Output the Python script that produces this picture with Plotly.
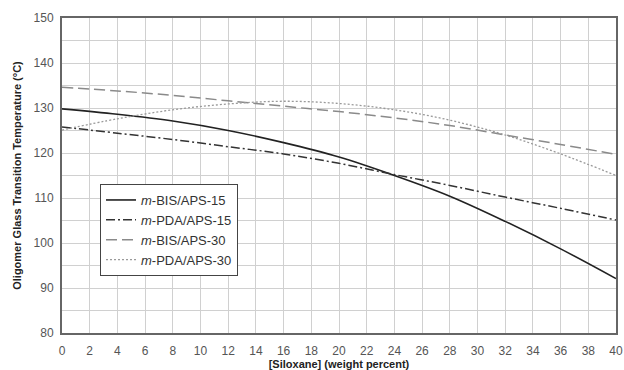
import plotly.graph_objects as go

x = [0, 4, 8, 12, 16, 20, 24, 28, 32, 36, 40]
bis15 = [129.8, 128.6, 127.1, 125.0, 122.3, 119.1, 115.0, 110.4, 104.8, 98.7, 92.1]
pda15 = [125.8, 124.4, 123.0, 121.4, 119.8, 117.7, 115.2, 112.8, 110.2, 107.7, 105.1]
bis30 = [134.6, 133.8, 132.8, 131.6, 130.4, 129.2, 127.8, 126.1, 124.0, 121.9, 119.7]
pda30 = [125.1, 127.6, 129.6, 130.9, 131.5, 131.0, 129.6, 127.3, 124.0, 119.8, 115.0]

names = ["<i>m</i>-BIS/APS-15", "<i>m</i>-PDA/APS-15", "<i>m</i>-BIS/APS-30", "<i>m</i>-PDA/APS-30"]
series = [bis15, pda15, bis30, pda30]
styles = [
    dict(color="#222222", width=1.6, dash="solid"),
    dict(color="#333333", width=1.5, dash="9px,3px,2px,3px"),
    dict(color="#8a8a8a", width=1.5, dash="11px,5px"),
    dict(color="#9a9a9a", width=1.3, dash="2px,2px"),
]

fig = go.Figure()
for n, s, st in zip(names, series, styles):
    fig.add_trace(go.Scatter(x=x, y=s, mode="lines", name=n, line=dict(shape="spline", **st)))

fig.update_layout(
    width=624, height=370,
    margin=dict(l=62, r=8, t=18, b=37),
    paper_bgcolor="white", plot_bgcolor="white",
    font=dict(family="Liberation Sans, Arial, sans-serif", size=12, color="#555555"),
    showlegend=True,
    legend=dict(x=0.0686, y=0.473, xanchor="left", yanchor="top",
                bordercolor="#444444", borderwidth=1, bgcolor="white",
                font=dict(size=13, color="#333333"), tracegroupgap=0,
                itemwidth=30),
)
fig.update_xaxes(range=[0, 40], dtick=2, tick0=0, showgrid=True, gridcolor="#d0d0d0", gridwidth=1,
                 showline=True, linecolor="#666666", linewidth=2, mirror=True, ticks="",
                 ticklabelstandoff=6, zeroline=False, automargin=False,
                 title=dict(text="<b>[Siloxane] (weight percent)</b>", font=dict(size=11, color="#222222"), standoff=2))
fig.update_yaxes(range=[80, 150], dtick=10, tick0=80, showgrid=True, gridcolor="#d0d0d0", gridwidth=1,
                 minor=dict(dtick=5, showgrid=True, gridcolor="#d0d0d0", gridwidth=1),
                 showline=True, linecolor="#666666", linewidth=2, mirror=True, ticks="",
                 ticklabelstandoff=4, zeroline=False, automargin=False,
                 title=dict(text="<b>Oligomer Glass Transition Temperature (°C)</b>", font=dict(size=11, color="#222222"), standoff=10))

fig.write_html("out.html")
